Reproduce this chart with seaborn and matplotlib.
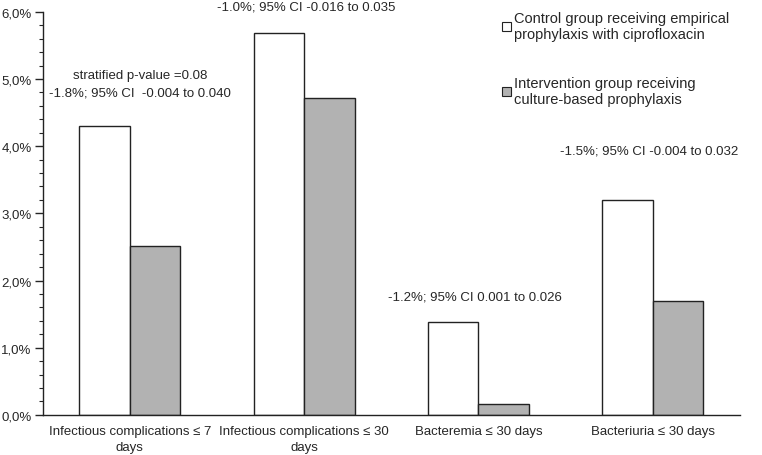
import pandas as pd
import matplotlib
matplotlib.use('Agg')
import matplotlib.pyplot as plt
import seaborn as sns
from matplotlib.ticker import MultipleLocator, FuncFormatter

categories = ['Infectious complications ≤ 7\ndays', 'Infectious complications ≤ 30\ndays',
              'Bacteremia ≤ 30 days', 'Bacteriuria ≤ 30 days']
groups = ['Control group receiving empirical\nprophylaxis with ciprofloxacin',
          'Intervention group receiving\nculture-based prophylaxis']
control = [4.30, 5.68, 1.38, 3.20]
intervention = [2.52, 4.72, 0.16, 1.70]
notes = ['stratified p-value =0.08\n-1.8%; 95% CI  -0.004 to 0.040',
         '-1.0%; 95% CI -0.016 to 0.035',
         '-1.2%; 95% CI 0.001 to 0.026',
         '-1.5%; 95% CI -0.004 to 0.032']

df = pd.DataFrame({
    'category': categories * 2,
    'group': [groups[0]] * 4 + [groups[1]] * 4,
    'value': control + intervention,
})

sns.set_style('white')
plt.rcParams['font.family'] = ['Liberation Sans', 'DejaVu Sans']

fig = plt.figure(figsize=(7.62, 4.56), dpi=100)
ax = fig.add_axes([0.056, 0.088, 0.915, 0.884])
sns.barplot(data=df, x='category', y='value', hue='group',
            palette=['white', '#b2b2b2'], edgecolor='#222222', linewidth=1.0,
            width=0.58, ax=ax)

ax.set_ylim(0, 6)
ax.set_xlim(-0.5, 3.5)
ax.yaxis.set_major_locator(MultipleLocator(1))
ax.yaxis.set_minor_locator(MultipleLocator(0.2))
ax.yaxis.set_major_formatter(FuncFormatter(lambda v, p: f'{v:.1f}%'.replace('.', ',')))
ax.tick_params(axis='y', which='major', length=6, width=1, direction='out', left=True,
               labelsize=9.5, pad=2)
ax.tick_params(axis='y', which='minor', length=3, width=0.8, direction='out', left=True)
ax.tick_params(axis='x', length=0, labelsize=9.5, pad=7)
for lbl in ax.get_xticklabels():
    lbl.set_linespacing(1.45)
ax.set_xlabel('')
ax.set_ylabel('')
for s in ['top', 'right']:
    ax.spines[s].set_visible(False)
for s in ['left', 'bottom']:
    ax.spines[s].set_color('#222222')
    ax.spines[s].set_linewidth(1)

# annotations
ax.text(0.06, 4.93, notes[0], ha='center', va='center', fontsize=9.5, linespacing=1.65)
ax.text(1.01, 6.08, notes[1], ha='center', va='center', fontsize=9.5)
ax.text(1.98, 1.76, notes[2], ha='center', va='center', fontsize=9.5)
ax.text(2.98, 3.94, notes[3], ha='center', va='center', fontsize=9.5)

leg = ax.legend(loc='upper left', bbox_to_anchor=(0.64, 1.035), frameon=False,
                fontsize=10.5, handlelength=0.6, handleheight=0.6, handletextpad=0.25,
                labelspacing=2.4)
for h in leg.legend_handles:
    h.set_edgecolor('#222222')
    h.set_linewidth(0.8)

fig.savefig('out.png', dpi=100)
